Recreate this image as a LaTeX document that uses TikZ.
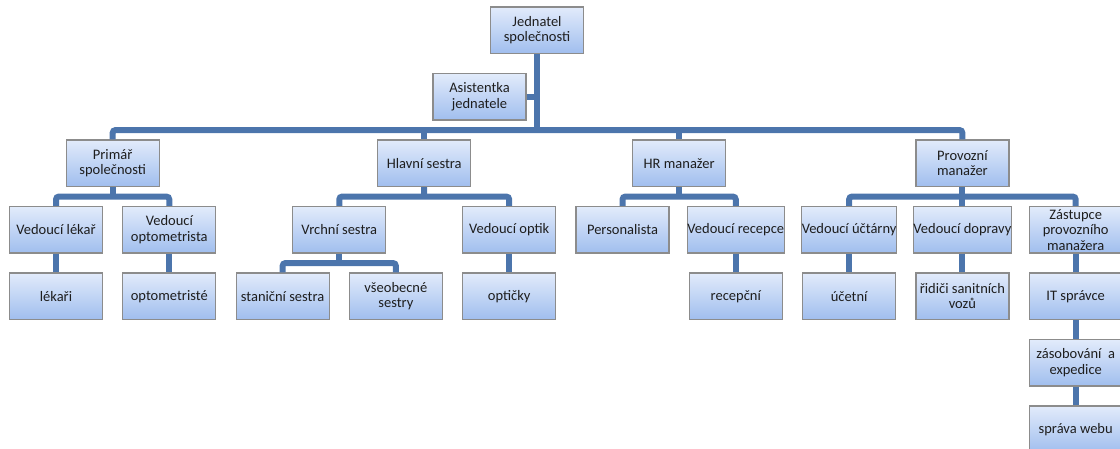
\documentclass[tikz,border=0pt]{standalone}
\usepackage{fontspec}
\setmainfont{Carlito}
\usetikzlibrary{calc}
\definecolor{linkblue}{RGB}{76,117,172}
\definecolor{boxtop}{RGB}{226,235,251}
\definecolor{boxbot}{RGB}{160,190,238}
\definecolor{boxedge}{RGB}{140,140,140}
\definecolor{ink}{RGB}{30,30,30}
\begin{document}
\begin{tikzpicture}[x=1pt,y=-1pt,
  unit/.style={rectangle, draw=boxedge, line width=1.2pt,
    top color=boxtop, bottom color=boxbot,
    minimum width=93pt, minimum height=46.5pt, inner sep=0pt,
    align=center, font=\fontsize{14.5}{15.5}\selectfont, text=ink},
  conn/.style={draw=linkblue, line width=6pt, rounded corners=3pt}]
\useasboundingbox (0,0) rectangle (1120,448);

% top of the chart
\node[unit] (ceo)  at (537,30.25)   {Jednatel\\společnosti};
\node[unit] (asst) at (479.5,96.75) {Asistentka\\jednatele};

% second level
\node[unit] (prim) at (112.65,163.25) {Primář\\společnosti};
\node[unit] (hlav) at (424.2,163.25)  {Hlavní sestra};
\node[unit] (hr)   at (679.15,163.25) {HR manažer};
\node[unit] (prov) at (962.4,163.25)  {Provozní\\manažer};

% third level
\node[unit] (vlek)   at (56,229.75)     {Vedoucí lékař};
\node[unit] (vopt)   at (169.3,229.75)  {Vedoucí\\optometrista};
\node[unit] (vrch)   at (339.25,229.75) {Vrchní sestra};
\node[unit] (voptik) at (509.2,229.75)  {Vedoucí optik};
\node[unit] (pers)   at (622.5,229.75)  {Personalista};
\node[unit] (vrec)   at (735.8,229.75)  {Vedoucí recepce};
\node[unit] (vuct)   at (849.1,229.75)  {Vedoucí účtárny};
\node[unit] (vdop)   at (962.4,229.75)  {Vedoucí dopravy};
\node[unit] (zast)   at (1075.7,229.75) {Zástupce\\provozního\\manažera};

% fourth level
\node[unit] (lek)   at (56,296.25)     {lékaři};
\node[unit] (optm)  at (169.3,296.25)  {optometristé};
\node[unit] (stan)  at (282.6,296.25)  {staniční sestra};
\node[unit] (vseo)  at (395.9,296.25)  {všeobecné\\sestry};
\node[unit] (optic) at (509.2,296.25)  {optičky};
\node[unit] (rec)   at (735.8,296.25)  {recepční};
\node[unit] (uct)   at (849.1,296.25)  {účetní};
\node[unit] (rid)   at (962.4,296.25)  {řidiči sanitních\\vozů};
\node[unit] (it)    at (1075.7,296.25) {IT správce};

% IT branch further down
\node[unit] (zas) at (1075.7,362.75) {zásobování\ \ a\\expedice};
\node[unit] (web) at (1075.7,429.25) {správa webu};

% main bus below the director and the assistant
\coordinate (bus) at ($(asst.south -| ceo.south)!0.5!(hlav.north -| ceo.south)$);
\draw[conn] (ceo.south) -- (bus);
\draw[conn] (asst.east) -- (asst.east -| ceo.south);
\draw[conn] (prim.north) |- (bus) -| (prov.north);
\draw[conn] (hlav.north) -- (hlav.north |- bus);
\draw[conn] (hr.north) -- (hr.north |- bus);

% second level to third level
\coordinate (bp) at ($(prim.south)!0.5!(prim.south |- vlek.north)$);
\draw[conn] (prim.south) -- (bp);
\draw[conn] (vlek.north) |- (bp) -| (vopt.north);

\coordinate (bh) at ($(hlav.south)!0.5!(hlav.south |- vrch.north)$);
\draw[conn] (hlav.south) -- (bh);
\draw[conn] (vrch.north) |- (bh) -| (voptik.north);

\coordinate (br) at ($(hr.south)!0.5!(hr.south |- pers.north)$);
\draw[conn] (hr.south) -- (br);
\draw[conn] (pers.north) |- (br) -| (vrec.north);

\coordinate (bv) at ($(prov.south)!0.5!(prov.south |- vuct.north)$);
\draw[conn] (prov.south) -- (vdop.north);
\draw[conn] (vuct.north) |- (bv) -| (zast.north);

% third level to fourth level
\coordinate (bs) at ($(vrch.south)!0.5!(vrch.south |- stan.north)$);
\draw[conn] (vrch.south) -- (bs);
\draw[conn] (stan.north) |- (bs) -| (vseo.north);
\draw[conn] (vlek.south) -- (lek.north);
\draw[conn] (vopt.south) -- (optm.north);
\draw[conn] (voptik.south) -- (optic.north);
\draw[conn] (vrec.south) -- (rec.north);
\draw[conn] (vuct.south) -- (uct.north);
\draw[conn] (vdop.south) -- (rid.north);
\draw[conn] (zast.south) -- (it.north);
\draw[conn] (it.south) -- (zas.north);
\draw[conn] (zas.south) -- (web.north);
\end{tikzpicture}
\end{document}
